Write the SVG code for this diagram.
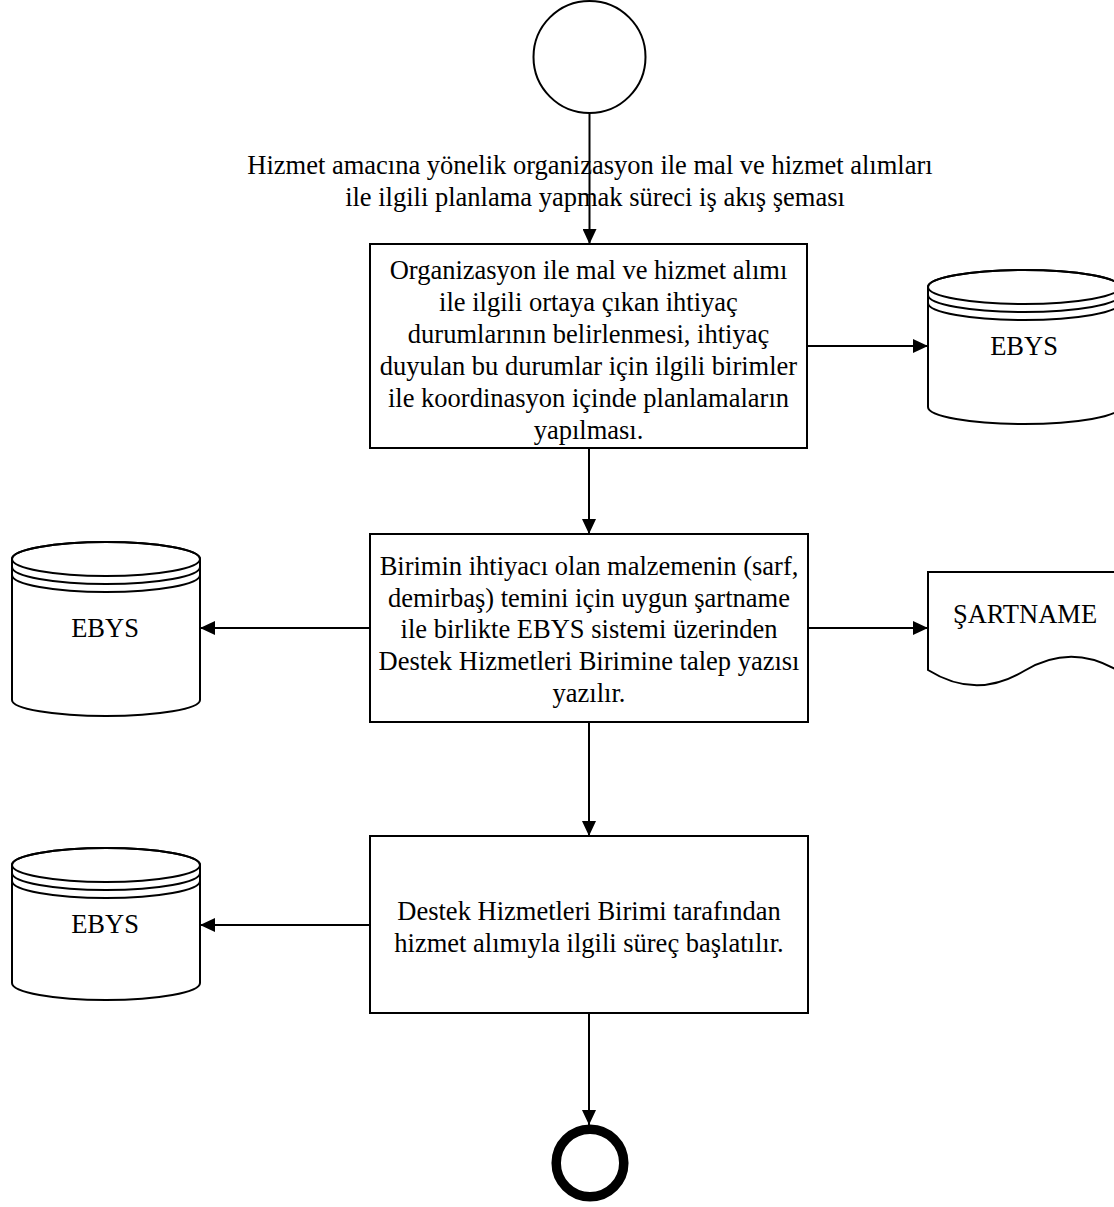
<svg xmlns="http://www.w3.org/2000/svg" width="1114" height="1207" viewBox="0 0 1114 1207">
<style>
.t{font-family:"Liberation Serif","Times New Roman",serif;font-size:26.5px;fill:#000;text-anchor:middle}
.s{fill:#fff;stroke:#000;stroke-width:2}
.n{fill:none;stroke:#000;stroke-width:2}
.c{fill:none;stroke:#000;stroke-width:2}
</style>
<defs>
<marker id="ah" markerUnits="userSpaceOnUse" markerWidth="15" markerHeight="14" refX="15" refY="7" orient="auto">
<path d="M0,0 L15,7 L0,14 z" fill="#000"/>
</marker>
</defs>
<rect width="1114" height="1207" fill="#fff"/>

<g id="title">
<text class="t" x="590" y="174">Hizmet amacına yönelik organizasyon ile mal ve hizmet alımları</text>
<text class="t" x="595" y="206">ile ilgili planlama yapmak süreci iş akış şeması</text>
</g>

<g id="start">
<circle class="s" cx="589.5" cy="57" r="56"/>
</g>

<g id="box1">
<rect class="s" x="370" y="244" width="437" height="204"/>
<text class="t" x="588.5" y="279">Organizasyon ile mal ve hizmet alımı</text>
<text class="t" x="588.5" y="311">ile ilgili ortaya çıkan ihtiyaç</text>
<text class="t" x="588.5" y="343">durumlarının belirlenmesi, ihtiyaç</text>
<text class="t" x="588.5" y="375">duyulan bu durumlar için ilgili birimler</text>
<text class="t" x="588.5" y="407">ile koordinasyon içinde planlamaların</text>
<text class="t" x="588.5" y="439">yapılması.</text>
</g>

<g id="ebys1">
<path class="s" d="M928,287 L928,407 A96,17 0 0 0 1120,407 L1120,287 A96,17 0 0 0 928,287 Z"/>
<ellipse class="n" cx="1024" cy="287" rx="96" ry="17"/>
<path class="n" d="M928,295 A96,17 0 0 0 1120,295"/>
<path class="n" d="M928,303 A96,17 0 0 0 1120,303"/>
<text class="t" x="1024" y="355">EBYS</text>
</g>

<g id="box2">
<rect class="s" x="370" y="534" width="438" height="188"/>
<text class="t" x="589" y="575">Birimin ihtiyacı olan malzemenin (sarf,</text>
<text class="t" x="589" y="607">demirbaş) temini  için uygun şartname</text>
<text class="t" x="589" y="638">ile birlikte EBYS sistemi üzerinden</text>
<text class="t" x="589" y="670">Destek Hizmetleri Birimine talep yazısı</text>
<text class="t" x="589" y="702">yazılır.</text>
</g>

<g id="ebys2">
<path class="s" d="M12,559 L12,700 A94,16 0 0 0 200,700 L200,559 A94,17 0 0 0 12,559 Z"/>
<ellipse class="n" cx="106" cy="559" rx="94" ry="17"/>
<path class="n" d="M12,567 A94,17 0 0 0 200,567"/>
<path class="n" d="M12,575 A94,17 0 0 0 200,575"/>
<text class="t" x="105" y="637">EBYS</text>
</g>

<g id="sartname">
<path class="s" d="M928,572 L1120,572 L1120,672 Q1072,642 1024,671 Q976,700 928,670 Z"/>
<text class="t" x="1025" y="623">ŞARTNAME</text>
</g>

<g id="box3">
<rect class="s" x="370" y="836" width="438" height="177"/>
<text class="t" x="589" y="920">Destek Hizmetleri Birimi tarafından</text>
<text class="t" x="589" y="952">hizmet alımıyla ilgili süreç başlatılır.</text>
</g>

<g id="ebys3">
<path class="s" d="M12,865 L12,983 A94,17 0 0 0 200,983 L200,865 A94,17 0 0 0 12,865 Z"/>
<ellipse class="n" cx="106" cy="865" rx="94" ry="17"/>
<path class="n" d="M12,873 A94,17 0 0 0 200,873"/>
<path class="n" d="M12,881 A94,17 0 0 0 200,881"/>
<text class="t" x="105" y="933">EBYS</text>
</g>

<g id="end">
<circle cx="590" cy="1163" r="33.8" fill="#fff" stroke="#000" stroke-width="9.5"/>
</g>

<g id="connectors">
<line class="c" x1="589.5" y1="113" x2="589.5" y2="244" marker-end="url(#ah)"/>
<line class="c" x1="807" y1="346" x2="928" y2="346" marker-end="url(#ah)"/>
<line class="c" x1="589" y1="448" x2="589" y2="534" marker-end="url(#ah)"/>
<line class="c" x1="370" y1="628" x2="200" y2="628" marker-end="url(#ah)"/>
<line class="c" x1="808" y1="628" x2="928" y2="628" marker-end="url(#ah)"/>
<line class="c" x1="589" y1="722" x2="589" y2="836" marker-end="url(#ah)"/>
<line class="c" x1="370" y1="925" x2="200" y2="925" marker-end="url(#ah)"/>
<line class="c" x1="589" y1="1013" x2="589" y2="1125" marker-end="url(#ah)"/>
</g>
</svg>
